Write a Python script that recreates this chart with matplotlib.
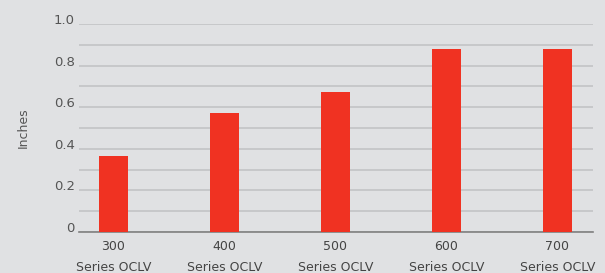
import matplotlib
matplotlib.use("Agg")
import matplotlib.pyplot as plt
import numpy as np

categories = ["300\nSeries OCLV", "400\nSeries OCLV", "500\nSeries OCLV", "600\nSeries OCLV", "700\nSeries OCLV"]
values = [0.365, 0.572, 0.673, 0.88, 0.88]
ytick_vals = [0, 0.1, 0.2, 0.3, 0.4, 0.5, 0.6, 0.7, 0.8, 0.9, 1.0]
ytick_labels = ["0", "", "0.2", "", "0.4", "", "0.6", "", "0.8", "", "1.0"]

bg = "#e0e1e3"
fig = plt.figure(figsize=(6.05, 2.73), dpi=100, facecolor=bg)
ax = fig.add_axes([79/605, 1-232/273, (593-79)/605, (232-24)/273], facecolor=bg)

x = np.arange(len(categories))
ax.bar(x, values, width=0.26, color="#f03222", zorder=3)

ax.set_xlim(-0.31, 4.32)
ax.set_ylim(0, 1.0)
ax.set_yticks(ytick_vals)
ax.set_yticklabels(ytick_labels, fontsize=9.5, color="#555555", va="baseline")
ax.set_xticks(x)
ax.set_xticklabels(categories, fontsize=9, color="#444444", linespacing=1.75)
ax.tick_params(axis="both", length=0)
ax.tick_params(axis="x", pad=6)
ax.tick_params(axis="y", pad=3)
ax.grid(axis="y", color="#c3c4c6", linewidth=1.2, zorder=0)
ax.set_axisbelow(True)
for s in ["top", "right", "left"]:
    ax.spines[s].set_visible(False)
ax.spines["bottom"].set_color("#808080")
ax.spines["bottom"].set_linewidth(1.2)

ax.set_ylabel("Inches", fontsize=9, color="#555555", labelpad=17)

fig.savefig("out.png", dpi=100, facecolor=bg)
